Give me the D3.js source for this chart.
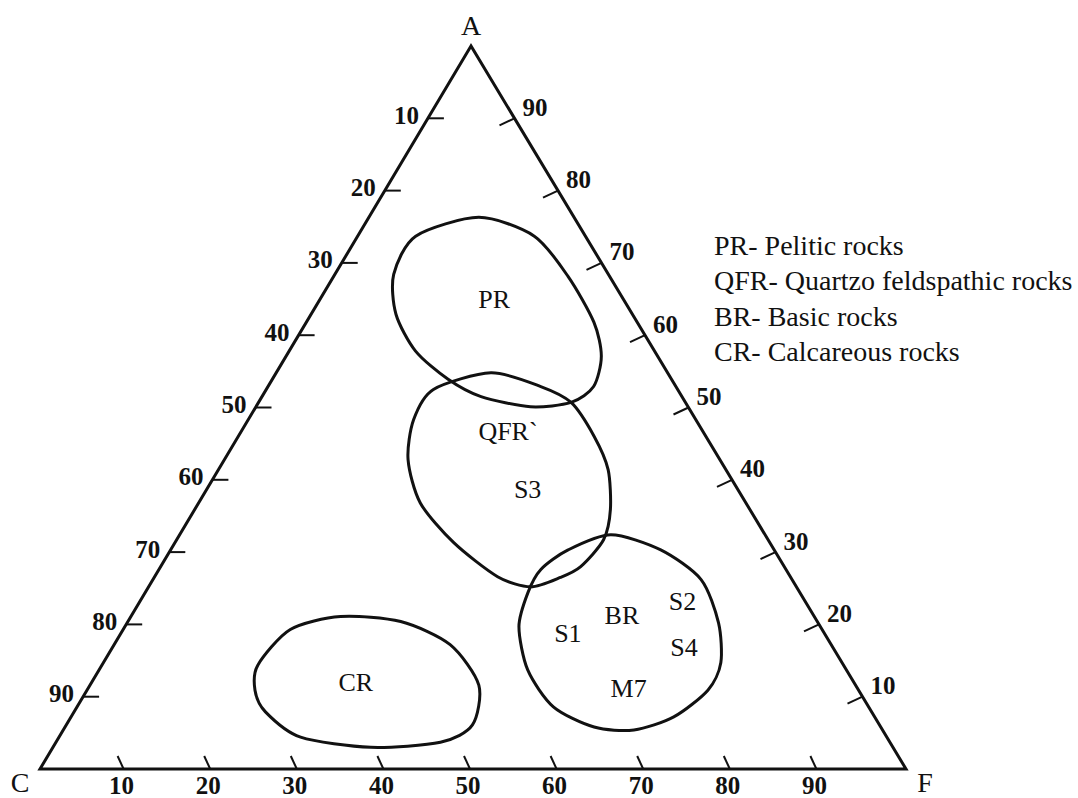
<!DOCTYPE html>
<html>
<head>
<meta charset="utf-8">
<script src="https://cdn.jsdelivr.net/npm/d3@7"></script>
<style>
  body { margin: 0; background: #fff; }
  text { font-family: "Liberation Serif", "Times New Roman", serif; fill: #111; }
</style>
</head>
<body>
<div class="chart"></div>
<script>
// axis ticks (percent)
var tickValues = [10, 20, 30, 40, 50, 60, 70, 80, 90];
var vertexNames = ["A", "C", "F"];
var legendLines = ["PR- Pelitic rocks", "QFR- Quartzo feldspathic rocks", "BR- Basic rocks", "CR- Calcareous rocks"];

// region outlines as [A %, F %]
var prOutline = [[76.3,12.7],[73.7,20.4],[68.1,27.1],[61.8,33.2],[57.1,36.4],[52.9,37.6],[50.7,36.1],
                 [50.1,31.7],[51.5,25.3],[53.9,20.3],[57.8,14.6],[62.9,9.8],[68.4,6.8],[73.7,6.7]];
var qfrOutline = [[54.8,24.8],[52.9,31.5],[50.7,36.1],[46.0,41.1],[41.4,45.0],[35.9,48.0],[31.7,49.3],
                  [28.0,48.5],[26.5,46.9],[25.2,44.1],[26.6,39.6],[31.3,32.2],[36.8,25.6],[42.8,21.2],
                  [48.3,19.1],[52.5,19.3]];
var brOutline = [[32.4,49.8],[30.3,56.6],[26.2,63.3],[20.2,68.3],[14.7,71.3],[10.9,71.7],[7.2,69.6],
                 [5.4,65.9],[5.8,61.1],[8.6,55.0],[13.7,49.5],[19.7,45.5],[24.4,44.2],[27.6,44.1],
                 [30.3,45.9]];
var crOutline = [[14.4,18.0],[19.3,19.3],[21.1,24.2],[20.4,31.5],[17.2,38.8],[11.6,44.9],[6.1,46.9],
                 [3.7,44.4],[3.0,36.7],[4.4,27.9],[7.9,22.1],[10.9,19.4]];

// labels inside the diagram, [name, A %, F %]
var regionLabels = [["PR",65.0,20.1],["QFR`",46.7,30.8],["S3",38.6,37.1],["BR",21.3,56.6],
                    ["S1",18.8,51.6],["S2",23.1,62.7],["S4",16.8,66.0],["M7",11.2,62.4],["CR",12.0,30.5]];

var width = 1078, height = 798;
var apex = {x: 471, y: 46}, left = {x: 40, y: 769}, right = {x: 906, y: 769};

var svg = d3.select(".chart").append("svg")
            .attr("width", width)
            .attr("height", height);

var fScale = d3.scaleLinear().domain([0, 100]).range([left.x, right.x]);
var aX = d3.scaleLinear().domain([0, 100]).range([0, apex.x - left.x]);
var aY = d3.scaleLinear().domain([0, 100]).range([left.y, apex.y]);

function proj(a, f) { return [fScale(f) + aX(a), aY(a)]; }

// triangle
var corners = [proj(100, 0), proj(0, 0), proj(0, 100)];
svg.append("path")
   .attr("d", d3.line()(corners) + "Z")
   .attr("fill", "none")
   .attr("stroke", "#111")
   .attr("stroke-width", 3)
   .attr("stroke-linejoin", "miter");

// vertex names
var vertexPos = [[corners[0][0], corners[0][1] - 21], [corners[1][0] - 20, corners[1][1] + 13], [corners[2][0] + 19, corners[2][1] + 13]];
svg.selectAll("text.vertex").data(vertexNames).enter().append("text")
   .attr("class", "vertex")
   .attr("x", function(d, i) { return vertexPos[i][0]; })
   .attr("y", function(d, i) { return vertexPos[i][1]; })
   .attr("text-anchor", "middle")
   .attr("dominant-baseline", "central")
   .style("font-size", "28px")
   .text(function(d) { return d; });

// ticks: left side, right side, base
var ticks = svg.append("g").attr("stroke", "#111").attr("stroke-width", 2);
var labels = svg.append("g").style("font-size", "25px").style("font-weight", "bold");

tickValues.forEach(function(v) {
  var p = proj(100 - v, 0);
  ticks.append("line").attr("x1", p[0]).attr("y1", p[1]).attr("x2", p[0] + 16).attr("y2", p[1]);
  labels.append("text").attr("x", p[0] - 9).attr("y", p[1] - 3)
        .attr("text-anchor", "end").attr("dominant-baseline", "central").text(v);

  var q = proj(v, 100 - v);
  ticks.append("line").attr("x1", q[0]).attr("y1", q[1]).attr("x2", q[0] - 15).attr("y2", q[1] + 7);
  labels.append("text").attr("x", q[0] + 8).attr("y", q[1] - 11)
        .attr("text-anchor", "start").attr("dominant-baseline", "central").text(v);

  var b = proj(0, v);
  ticks.append("line").attr("x1", b[0] - 3).attr("y1", b[1]).attr("x2", b[0] - 9).attr("y2", b[1] - 13);
  labels.append("text").attr("x", b[0] - 5).attr("y", b[1] + 16)
        .attr("text-anchor", "middle").attr("dominant-baseline", "central").text(v);
});

// rock fields
var outline = d3.line()
                .x(function(d) { return proj(d[0], d[1])[0]; })
                .y(function(d) { return proj(d[0], d[1])[1]; })
                .curve(d3.curveCardinalClosed.tension(0.2));

svg.selectAll("path.field").data([prOutline, qfrOutline, brOutline, crOutline]).enter().append("path")
   .attr("class", "field")
   .attr("d", outline)
   .attr("fill", "none")
   .attr("stroke", "#111")
   .attr("stroke-width", 3);

svg.selectAll("text.region").data(regionLabels).enter().append("text")
   .attr("class", "region")
   .attr("x", function(d) { return proj(d[1], d[2])[0]; })
   .attr("y", function(d) { return proj(d[1], d[2])[1]; })
   .attr("text-anchor", "middle")
   .attr("dominant-baseline", "central")
   .style("font-size", "26px")
   .text(function(d) { return d[0]; });

// legend
svg.selectAll("text.legend").data(legendLines).enter().append("text")
   .attr("class", "legend")
   .attr("x", 714)
   .attr("y", function(d, i) { return 245 + i * 35.5; })
   .attr("dominant-baseline", "central")
   .style("font-size", "28px")
   .text(function(d) { return d; });
</script>
</body>
</html>
